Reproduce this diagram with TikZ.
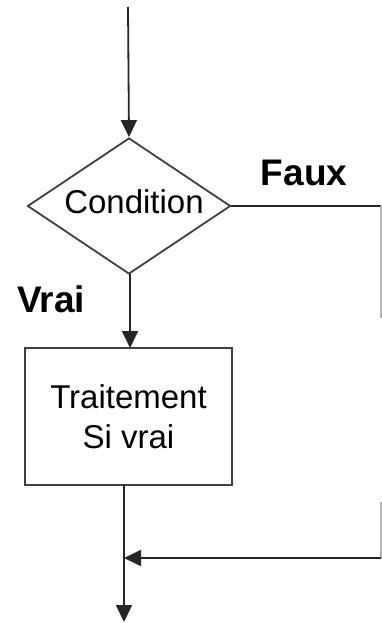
\documentclass[tikz,border=0pt]{standalone}
\usepackage{fontspec}
\setmainfont{Liberation Sans}
\usetikzlibrary{shapes.geometric,arrows.meta}
\begin{document}
\begin{tikzpicture}[x=1pt,y=-1pt,
  ln/.style={draw=black!85,line width=1.8pt},
  arr/.style={ln,-{Triangle[width=16pt,length=17pt]}},
  shp/.style={draw=black!75,line width=1.8pt,inner sep=0pt},
  lbl/.style={font=\fontsize{33}{40}\selectfont},
  blbl/.style={font=\fontsize{37}{40}\selectfont\bfseries,inner sep=0pt,anchor=base}]
\useasboundingbox (0,0) rectangle (382,623);
\coordinate (start) at (128,7);
\node[shp,diamond,minimum width=203pt,minimum height=136pt] (cond) at (129,206) {};
\node[lbl,inner sep=0pt,anchor=base] (condt) at (134,213) {Condition};
\node[shp,rectangle,minimum width=207pt,minimum height=137pt,lbl,align=center] (proc) at (128.5,416.5) {Traitement\\Si vrai};
\coordinate (c1) at (381,206);
\coordinate (c1b) at (381,318);
\coordinate (c2a) at (381,502);
\coordinate (c2) at (381,558);
\coordinate (pb) at (124,485);
\coordinate (join) at (124,558);
\coordinate (endp) at (124,622);
\draw[arr] (start) -- (cond.north);
\draw[arr] (130,274) -- (130,348);
\draw[ln] (cond.east) -- (c1);
\draw[draw=black!30,line width=1.2pt] (c1) -- (c1b);
\draw[draw=black!30,line width=1.2pt] (c2a) -- (c2);
\draw[arr] (c2) -- (join);
\draw[arr] (pb) -- (endp);
\node[blbl] (faux) at (304,185) {Faux};
\node[blbl] (vrai) at (51,312) {Vrai};
\end{tikzpicture}
\end{document}
